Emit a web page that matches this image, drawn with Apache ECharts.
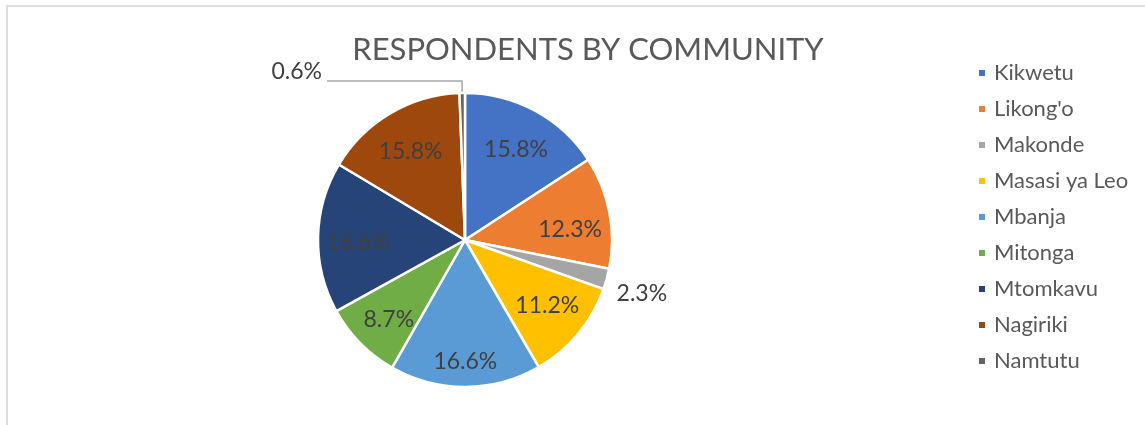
<!DOCTYPE html>
<html>
<head>
<meta charset="utf-8">
<script src="https://cdn.jsdelivr.net/npm/echarts@6/dist/echarts.min.js"></script>
<style>
  html, body { margin: 0; padding: 0; background: #fff; overflow: hidden; }
  #frame { position: absolute; left: 6px; top: 5px; width: 1300px; height: 600px;
           border: 2px solid #dedede; box-sizing: border-box; }
  #chart { position: absolute; left: 0; top: 0; width: 1145px; height: 425px; }
</style>
</head>
<body>
<div id="frame"></div>
<div id="chart"></div>
<script>
// Share of respondents per community (percent)
const communities = ['Kikwetu', "Likong'o", 'Makonde', 'Masasi ya Leo', 'Mbanja',
                     'Mitonga', 'Mtomkavu', 'Nagiriki', 'Namtutu'];
const shares = [15.8, 12.3, 2.3, 11.2, 16.6, 8.7, 16.6, 15.8, 0.6];
const colors = ['#4472C4', '#ED7D31', '#A5A5A5', '#FFC000', '#5B9BD5',
                '#70AD47', '#264478', '#9E480E', '#636363'];

const FONT = 'Lato, "Open Sans", sans-serif';
const LABEL_SIZE = 23;
const center = [465, 240];
const R = 147;

const pctText = v => v.toFixed(1) + '%';

// Vertical nudge (px) for a label: a blank line of height 2*|s| above
// (s > 0, moves down) or below (s < 0, moves up) the value
const nudged = (s) => ({
  lineHeight: Math.max(2 * Math.abs(s), 1),
  formatter: p => s > 0 ? '\n' + pctText(p.value)
                        : s < 0 ? pctText(p.value) + '\n' : pctText(p.value)
});

// Small slices are labelled outside the pie
const outsideStyle = {
  Makonde: {
    label: Object.assign({ show: true, position: 'outside' }, nudged(13)),
    labelLine: { show: false, length: 5, length2: 0 }
  },
  Namtutu: {
    label: Object.assign({ show: true, position: 'outside' }, nudged(-9)),
    labelLine: { show: true, length: 12, length2: 135,
                 lineStyle: { color: '#a6a6a6', width: 1.5 } }
  }
};
// Inside labels that sit off the common label ring
const insideShift = { "Likong'o": 6, 'Masasi ya Leo': -7, 'Mbanja': 11 };

const sliceData = communities.map((name, i) => {
  const item = { name, value: shares[i], itemStyle: { color: colors[i] } };
  if (outsideStyle[name]) Object.assign(item, outsideStyle[name]);
  return item;
});

// Transparent ring used only to place the inside labels
const labelData = communities.map((name, i) => {
  const label = { show: !outsideStyle[name] };
  if (insideShift[name]) Object.assign(label, nudged(insideShift[name]));
  return { name, value: shares[i], label };
});

const chart = echarts.init(document.getElementById('chart'), null, { renderer: 'canvas' });
chart.setOption({
  animation: false,
  title: {
    text: 'RESPONDENTS BY COMMUNITY',
    left: 583, top: 29, textAlign: 'center',
    textStyle: { fontFamily: FONT, fontSize: 31, fontWeight: 'normal', color: '#595959' }
  },
  legend: {
    orient: 'vertical',
    left: 972, top: 57,
    itemWidth: 8, itemHeight: 8, itemGap: 14,
    icon: 'rect',
    data: communities,
    textStyle: { fontFamily: FONT, fontSize: 22, color: '#595959', padding: [0, 0, 0, 3] }
  },
  series: [
    {
      type: 'pie',
      center: center,
      radius: [0, R],
      startAngle: 90,
      clockwise: true,
      avoidLabelOverlap: false,
      itemStyle: { borderColor: '#fff', borderWidth: 2.5 },
      label: { show: false, formatter: p => pctText(p.value),
               fontFamily: FONT, fontSize: LABEL_SIZE, color: '#404040' },
      labelLine: { show: false },
      emphasis: { disabled: true },
      data: sliceData
    },
    {
      type: 'pie',
      center: [center[0], center[1] + 4],
      radius: [R * 0.415, R],
      startAngle: 90,
      clockwise: true,
      silent: true,
      legendHoverLink: false,
      avoidLabelOverlap: false,
      itemStyle: { color: 'rgba(0,0,0,0)', borderWidth: 0 },
      label: { position: 'inside', formatter: p => pctText(p.value),
               fontFamily: FONT, fontSize: LABEL_SIZE, color: '#404040' },
      labelLine: { show: false },
      emphasis: { disabled: true },
      data: labelData
    }
  ]
});
</script>
</body>
</html>
